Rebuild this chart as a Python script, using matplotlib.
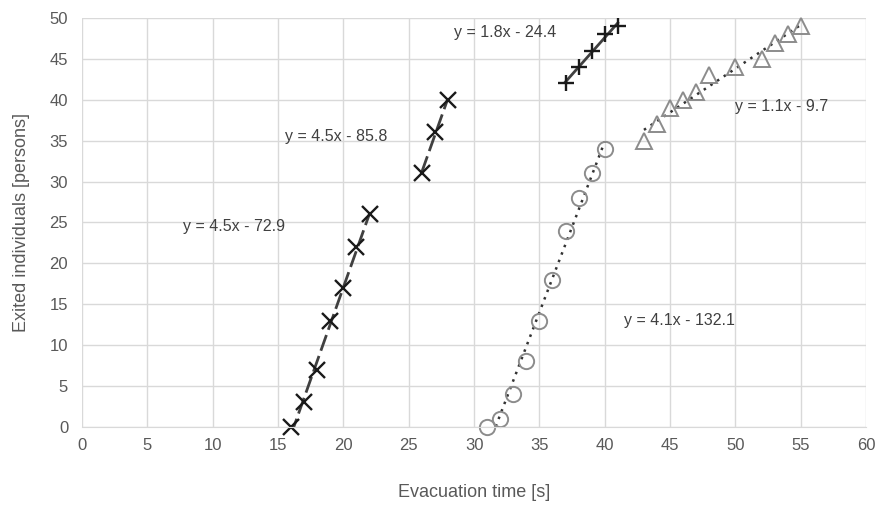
import numpy as np
import matplotlib
matplotlib.use("Agg")
import matplotlib.pyplot as plt

plt.rcParams['font.family'] = ['Liberation Sans', 'DejaVu Sans']

# data
x_cross1 = [16, 17, 18, 19, 20, 21, 22]
y_cross1 = [0, 3, 7, 13, 17, 22, 26]
x_cross2 = [26, 27, 28]
y_cross2 = [31, 36, 40]
x_plus = [37, 38, 39, 40, 41]
y_plus = [42, 44, 46, 48, 49]
x_circ = [31, 32, 33, 34, 35, 36, 37, 38, 39, 40]
y_circ = [0, 1, 4, 8, 13, 18, 24, 28, 31, 34]
x_tri = [43, 44, 45, 46, 47, 48, 50, 52, 53, 54, 55]
y_tri = [35, 37, 39, 40, 41, 43, 44, 45, 47, 48, 49]

eq_labels = ["y = 4.5x - 72.9", "y = 4.5x - 85.8", "y = 1.8x - 24.4",
             "y = 4.1x - 132.1", "y = 1.1x - 9.7"]
eq_pos = [(7.7, 24.5), (15.5, 35.5), (28.5, 48.2), (41.5, 13.0), (50.0, 39.2)]


def trend(ax, xs, ys, **kw):
    k, b = np.polyfit(xs, ys, 1)
    xx = np.array([min(xs), max(xs)])
    ax.plot(xx, k * xx + b, **kw)


fig = plt.figure(figsize=(8.82, 5.07), dpi=100)
ax = fig.add_axes([0.093, 0.158, 0.889, 0.8065])

trend(ax, x_cross1, y_cross1, color="#404040", lw=2, ls=(0, (6, 2)))
trend(ax, x_cross2, y_cross2, color="#404040", lw=2, ls=(0, (6, 2)))
trend(ax, x_plus, y_plus, color="#404040", lw=2, ls="-")
trend(ax, x_circ, y_circ, color="#333333", lw=1.8, ls=(0, (1, 2.2)))
trend(ax, x_tri, y_tri, color="#333333", lw=1.8, ls=(0, (1, 2.2)))

mk = dict(ls="none", clip_on=False)
ax.plot(x_cross1, y_cross1, marker="x", ms=11, mew=1.7, color="#1a1a1a", **mk)
ax.plot(x_cross2, y_cross2, marker="x", ms=11, mew=1.7, color="#1a1a1a", **mk)
ax.plot(x_plus, y_plus, marker="+", ms=12, mew=1.7, color="#1a1a1a", **mk)
ax.plot(x_circ, y_circ, marker="o", ms=11, mew=1.4, mfc="none", mec="#8c8c8c", **mk)
ax.plot(x_tri, y_tri, marker="^", ms=11, mew=1.4, mfc="none", mec="#8c8c8c", **mk)

for lab, (tx, ty) in zip(eq_labels, eq_pos):
    ax.text(tx, ty, lab, fontsize=11.5, color="#404040", va="center")

ax.set_xlim(0, 60)
ax.set_ylim(0, 50)
ax.set_xticks(range(0, 61, 5))
ax.set_yticks(range(0, 51, 5))
ax.grid(True, color="#d9d9d9", lw=1)
ax.set_axisbelow(True)
for s in ["top", "right", "left"]:
    ax.spines[s].set_visible(False)
ax.spines["bottom"].set_color("#d9d9d9")
ax.tick_params(length=0, labelsize=12, colors="#595959")
ax.tick_params(axis="x", pad=8)
ax.tick_params(axis="y", pad=10)
ax.set_xlabel("Evacuation time [s]", fontsize=13, color="#595959", labelpad=22)
ax.set_ylabel("Exited individuals [persons]", fontsize=13, color="#595959", labelpad=14)

fig.savefig("out.png", dpi=100)
